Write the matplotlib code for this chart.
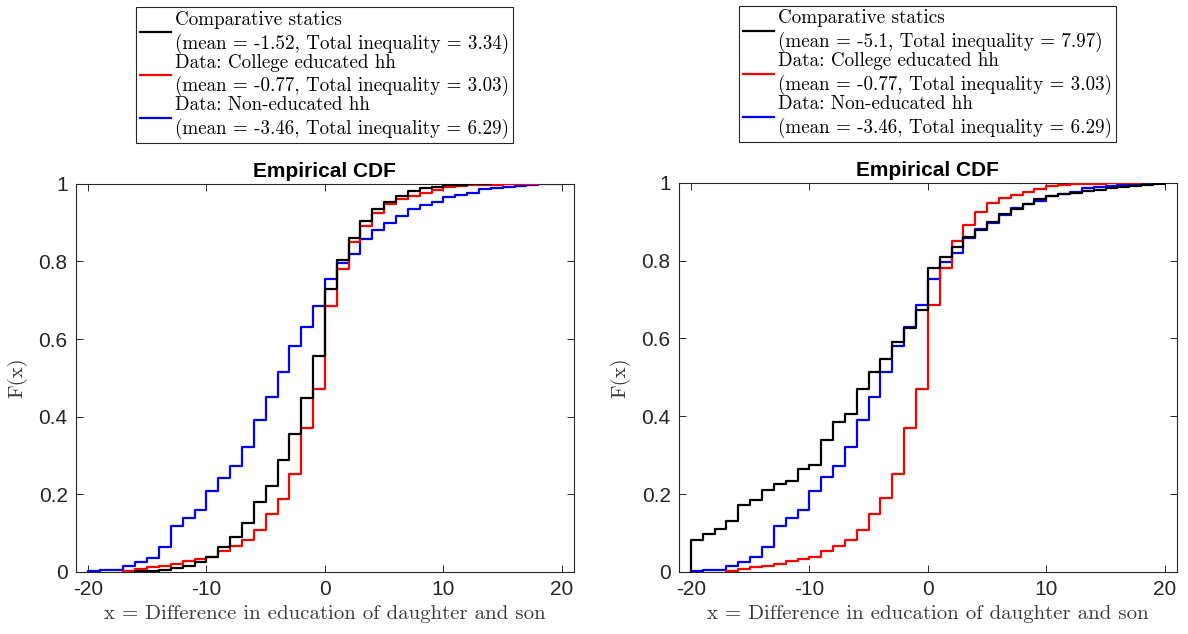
import numpy as np
import matplotlib
matplotlib.use("Agg")
from matplotlib import pyplot as plt

# support points (integer differences) and empirical CDF values
x_comp_a = np.arange(-16, 15)
F_comp_a = [0.001, 0.002, 0.005, 0.009, 0.015, 0.026, 0.038, 0.065, 0.091, 0.127,
            0.179, 0.222, 0.288, 0.355, 0.447, 0.557, 0.728, 0.803, 0.86, 0.903,
            0.936, 0.954, 0.97, 0.982, 0.989, 0.993, 0.996, 0.998, 0.999, 0.9995, 1.0]

x_comp_b = np.arange(-20, 21)
F_comp_b = [0.081, 0.097, 0.109, 0.131, 0.173, 0.184, 0.21, 0.227, 0.233, 0.264,
            0.274, 0.338, 0.384, 0.407, 0.469, 0.514, 0.547, 0.592, 0.627, 0.674,
            0.78, 0.81, 0.835, 0.862, 0.88, 0.90, 0.92, 0.934, 0.946, 0.958,
            0.966, 0.971, 0.975, 0.979, 0.982, 0.986, 0.99, 0.993, 0.995, 0.997, 1.0]

x_college = np.arange(-17, 19)
F_college = [0.003, 0.008, 0.012, 0.016, 0.021, 0.027, 0.033, 0.039, 0.053, 0.066,
             0.081, 0.107, 0.15, 0.189, 0.251, 0.37, 0.471, 0.686, 0.78, 0.851,
             0.891, 0.926, 0.947, 0.961, 0.97, 0.977, 0.985, 0.993, 0.995, 0.996,
             0.997, 0.998, 0.9985, 0.999, 0.9995, 1.0]

x_noned = np.arange(-20, 21)
F_noned = [0.002, 0.004, 0.006, 0.015, 0.025, 0.037, 0.064, 0.119, 0.139, 0.159,
           0.208, 0.243, 0.273, 0.321, 0.391, 0.45, 0.514, 0.581, 0.63, 0.686,
           0.754, 0.797, 0.82, 0.857, 0.881, 0.898, 0.918, 0.935, 0.945, 0.954,
           0.965, 0.971, 0.977, 0.986, 0.99, 0.993, 0.995, 0.997, 0.999, 0.9995, 1.0]

labels_a = ["Comparative statics\n(mean = -1.52, Total inequality = 3.34)",
            "Data: College educated hh\n(mean = -0.77, Total inequality = 3.03)",
            "Data: Non-educated hh\n(mean = -3.46, Total inequality = 6.29)"]
labels_b = ["Comparative statics\n(mean = -5.1, Total inequality = 7.97)",
            "Data: College educated hh\n(mean = -0.77, Total inequality = 3.03)",
            "Data: Non-educated hh\n(mean = -3.46, Total inequality = 6.29)"]

x_ticks = [-20, -10, 0, 10, 20]
y_ticks = [0, 0.2, 0.4, 0.6, 0.8, 1]
y_ticklabels = ["0", "0.2", "0.4", "0.6", "0.8", "1"]

AX_COLOR = "#262626"
SERIF = "cmr10"
SANS = "Liberation Sans"


def draw_cdf(ax, x, F, color, z):
    # stairs starting from zero at the smallest support point
    xs = np.r_[x[0], x]
    ys = np.r_[0.0, F]
    line, = ax.step(xs, ys, where="post", color=color, lw=1.6, zorder=z)
    return line


def style_axes(ax):
    ax.set_xlim(-21, 21)
    ax.set_ylim(0, 1)
    ax.set_xticks(x_ticks)
    ax.set_xticklabels([str(t) for t in x_ticks], fontfamily=SANS, fontsize=15)
    ax.set_yticks(y_ticks)
    ax.set_yticklabels(y_ticklabels, fontfamily=SANS, fontsize=15)
    ax.tick_params(direction="in", top=True, right=True, length=5, width=0.7,
                   colors=AX_COLOR, pad=6)
    for sp in ax.spines.values():
        sp.set_color(AX_COLOR)
        sp.set_linewidth(0.8)
    ax.set_title("Empirical CDF", fontfamily=SANS, fontweight="bold", fontsize=15,
                 pad=5)
    ax.set_xlabel("x = Difference in education of daughter and son",
                  fontfamily=SERIF, fontsize=15, color="#3a3a3a", labelpad=4)
    ax.set_ylabel("F(x)", fontfamily=SERIF, fontsize=15, color="#3a3a3a", labelpad=8)


fig = plt.figure(figsize=(11.88, 6.34), dpi=100)
ax1 = fig.add_axes([0.064, 0.098, 0.419, 0.612])
ax2 = fig.add_axes([0.5716, 0.098, 0.4188, 0.6136])

panels = [(ax1, x_comp_a, F_comp_a, labels_a), (ax2, x_comp_b, F_comp_b, labels_b)]
for ax, xc, Fc, labels in panels:
    h_blue = draw_cdf(ax, x_noned, F_noned, "#0000ff", 2)
    h_red = draw_cdf(ax, x_college, F_college, "#ff0000", 3)
    h_black = draw_cdf(ax, xc, Fc, "black", 4)
    style_axes(ax)
    leg = ax.legend([h_black, h_red, h_blue], labels, loc="lower center",
                    bbox_to_anchor=(0.5, 1.105), borderaxespad=0,
                    prop={"family": SERIF, "size": 13.7}, frameon=True,
                    fancybox=False, framealpha=1, edgecolor=AX_COLOR,
                    handlelength=1.6, handletextpad=0.25, labelspacing=0.0,
                    borderpad=0.2)
    leg.get_frame().set_linewidth(0.8)
    for t in leg.get_texts():
        t.set_linespacing(1.32)

plt.savefig("out.png", dpi=100)
